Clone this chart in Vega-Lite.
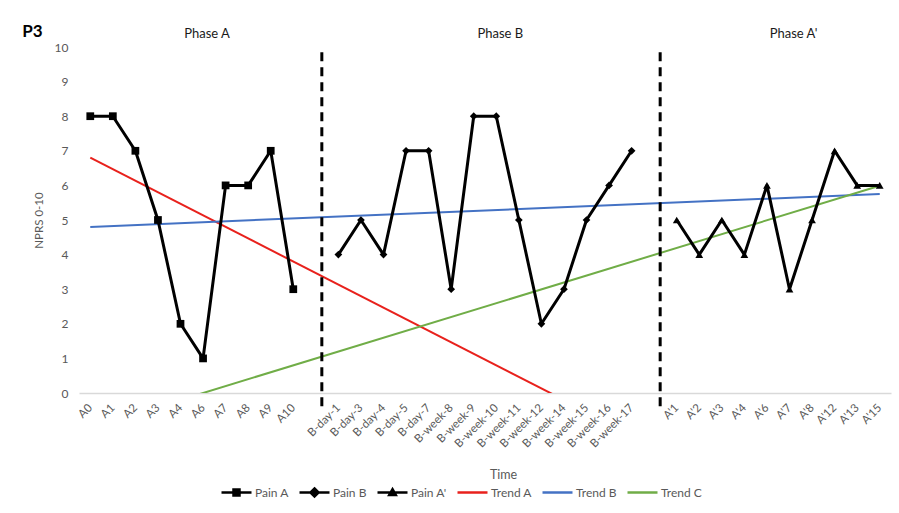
{
  "$schema": "https://vega.github.io/schema/vega-lite/v6.json",
  "width": 812,
  "height": 346,
  "autosize": "none",
  "padding": {"left": 79, "top": 47, "right": 8, "bottom": 120},
  "background": "white",
  "config": {
    "font": "Lato",
    "view": {"stroke": null},
    "axis": {"labelFont": "Lato", "titleFont": "Lato"}
  },
  "data": {
    "values": [
      {"series": "Pain A", "time": "A0", "nprs": 8},
      {"series": "Pain A", "time": "A1", "nprs": 8},
      {"series": "Pain A", "time": "A2", "nprs": 7},
      {"series": "Pain A", "time": "A3", "nprs": 5},
      {"series": "Pain A", "time": "A4", "nprs": 2},
      {"series": "Pain A", "time": "A6", "nprs": 1},
      {"series": "Pain A", "time": "A7", "nprs": 6},
      {"series": "Pain A", "time": "A8", "nprs": 6},
      {"series": "Pain A", "time": "A9", "nprs": 7},
      {"series": "Pain A", "time": "A10", "nprs": 3},
      {"series": "Pain B", "time": "B-day-1", "nprs": 4},
      {"series": "Pain B", "time": "B-day-3", "nprs": 5},
      {"series": "Pain B", "time": "B-day-4", "nprs": 4},
      {"series": "Pain B", "time": "B-day-5", "nprs": 7},
      {"series": "Pain B", "time": "B-day-7", "nprs": 7},
      {"series": "Pain B", "time": "B-week-8", "nprs": 3},
      {"series": "Pain B", "time": "B-week-9", "nprs": 8},
      {"series": "Pain B", "time": "B-week-10", "nprs": 8},
      {"series": "Pain B", "time": "B-week-11", "nprs": 5},
      {"series": "Pain B", "time": "B-week-12", "nprs": 2},
      {"series": "Pain B", "time": "B-week-14", "nprs": 3},
      {"series": "Pain B", "time": "B-week-15", "nprs": 5},
      {"series": "Pain B", "time": "B-week-16", "nprs": 6},
      {"series": "Pain B", "time": "B-week-17", "nprs": 7},
      {"series": "Pain A'", "time": "A'1", "nprs": 5},
      {"series": "Pain A'", "time": "A'2", "nprs": 4},
      {"series": "Pain A'", "time": "A'3", "nprs": 5},
      {"series": "Pain A'", "time": "A'4", "nprs": 4},
      {"series": "Pain A'", "time": "A'6", "nprs": 6},
      {"series": "Pain A'", "time": "A'7", "nprs": 3},
      {"series": "Pain A'", "time": "A'8", "nprs": 5},
      {"series": "Pain A'", "time": "A'12", "nprs": 7},
      {"series": "Pain A'", "time": "A'13", "nprs": 6},
      {"series": "Pain A'", "time": "A'15", "nprs": 6},
      {"series": "Trend A", "time": "A0", "nprs": 6.8},
      {"series": "Trend A", "time": "B-week-14", "nprs": -0.2},
      {"series": "Trend B", "time": "A0", "nprs": 4.8},
      {"series": "Trend B", "time": "A'15", "nprs": 5.75},
      {"series": "Trend C", "time": "A4", "nprs": -0.2},
      {"series": "Trend C", "time": "A'15", "nprs": 5.99}
    ]
  },
  "encoding": {
    "x": {
      "field": "time",
      "type": "nominal",
      "scale": {
        "type": "point",
        "padding": 0.5,
        "domain": ["A0", "A1", "A2", "A3", "A4", "A6", "A7", "A8", "A9", "A10", "gap1",
          "B-day-1", "B-day-3", "B-day-4", "B-day-5", "B-day-7", "B-week-8", "B-week-9", "B-week-10", "B-week-11", "B-week-12", "B-week-14", "B-week-15", "B-week-16", "B-week-17", "gap2",
          "A'1", "A'2", "A'3", "A'4", "A'6", "A'7", "A'8", "A'12", "A'13", "A'15"]
      },
      "axis": {
        "title": "Time",
        "titleColor": "#595959",
        "titleFontSize": 12.5,
        "titleFontWeight": "normal",
        "titlePadding": 19,
        "titleX": 424,
        "labelAngle": -45,
        "labelAlign": "right",
        "labelBaseline": "middle",
        "labelColor": "#595959",
        "labelFontSize": 11.5,
        "labelPadding": 13,
        "labelOverlap": false,
        "ticks": false,
        "domainColor": "#d9d9d9",
        "domainWidth": 1.5,
        "grid": false,
        "labelExpr": "indexof(datum.label, 'gap') === 0 ? '' : datum.label"
      }
    }
  },
  "layer": [
    {
      "transform": [{"filter": "indexof(datum.series, 'Trend') === 0"}],
      "mark": {"type": "line", "clip": true, "strokeWidth": 2},
      "encoding": {
        "y": {
          "field": "nprs",
          "type": "quantitative",
          "scale": {"domain": [0, 10], "nice": false},
          "axis": {
            "title": "NPRS 0-10",
            "titleColor": "#595959",
            "titleFontSize": 11.5,
            "titleFontWeight": "normal",
            "titlePadding": 10,
            "values": [0, 1, 2, 3, 4, 5, 6, 7, 8, 9, 10],
            "tickCount": 11,
            "labelExpr": "format(datum.value, 'd')",
            "labelOverlap": false,
            "labelSeparation": 0,
            "labelBound": false,
            "labelFlush": false,
            "labelColor": "#595959",
            "labelFontSize": 12,
            "labelPadding": 11,
            "domain": false,
            "ticks": false,
            "grid": false
          }
        },
        "color": {
          "field": "series",
          "type": "nominal",
          "scale": {
            "domain": ["Pain A", "Pain B", "Pain A'", "Trend A", "Trend B", "Trend C"],
            "range": ["#000000", "#000000", "#000000", "#e8211c", "#4472c4", "#70ad47"]
          },
          "legend": {
            "orient": "none",
            "legendX": 141,
            "legendY": 429,
            "direction": "horizontal",
            "columns": 6,
            "gridAlign": "none",
            "title": null,
            "symbolSize": 900,
            "symbolStrokeWidth": 2.5,
            "labelFontSize": 12,
            "labelColor": "#595959",
            "labelOffset": 2,
            "columnPadding": 5,
            "encode": {
              "symbols": {
                "update": {
                  "shape": {"signal": "datum.value === 'Pain A' ? 'M-1,0H1M-0.2,-0.2H0.2V0.2H-0.2Z' : datum.value === 'Pain B' ? 'M-1,0H1M0,-0.27L0.27,0L0,0.27L-0.27,0Z' : datum.value === \"Pain A'\" ? 'M-1,0H1M0,-0.22L0.22,0.16H-0.22Z' : 'M-1,0H1'"},
                  "fill": {"value": "black"}
                }
              }
            }
          }
        }
      }
    },
    {
      "transform": [{"filter": "indexof(datum.series, 'Pain') === 0"}],
      "mark": {"type": "line", "strokeWidth": 3, "strokeJoin": "round"},
      "encoding": {
        "y": {"field": "nprs", "type": "quantitative"},
        "color": {"field": "series", "type": "nominal"}
      }
    },
    {
      "transform": [{"filter": "indexof(datum.series, 'Pain') === 0"}],
      "mark": {"type": "point", "filled": true, "opacity": 1, "color": "#000000"},
      "encoding": {
        "y": {"field": "nprs", "type": "quantitative"},
        "shape": {
          "field": "series",
          "type": "nominal",
          "scale": {"domain": ["Pain A", "Pain B", "Pain A'"], "range": ["square", "diamond", "triangle-up"]},
          "legend": null
        },
        "size": {
          "field": "series",
          "type": "nominal",
          "scale": {"domain": ["Pain A", "Pain B", "Pain A'"], "range": [60, 60, 28]},
          "legend": null
        }
      }
    },
    {
      "data": {"values": [{"time": "gap1"}, {"time": "gap2"}]},
      "mark": {"type": "rule", "color": "#000000", "strokeWidth": 3, "strokeDash": [9, 6], "xOffset": 6},
      "encoding": {
        "y": {"datum": 9.85},
        "y2": {"datum": -0.55}
      }
    },
    {
      "data": {"values": [
        {"phase": "Phase A", "time": "A6"},
        {"phase": "Phase B", "time": "B-week-10"},
        {"phase": "Phase A'", "time": "A'7"}
      ]},
      "mark": {"type": "text", "fontSize": 13, "color": "#1a1a1a", "baseline": "middle", "align": "center", "dx": 4},
      "encoding": {
        "y": {"datum": 10.38},
        "text": {"field": "phase"}
      }
    },
    {
      "data": {"values": [{"label": "P3", "time": "A0"}]},
      "mark": {"type": "text", "fontSize": 17, "fontWeight": "bold", "color": "#000000", "baseline": "alphabetic", "align": "left", "dx": -68},
      "encoding": {
        "y": {"datum": 10.28},
        "text": {"field": "label"}
      }
    }
  ]
}
